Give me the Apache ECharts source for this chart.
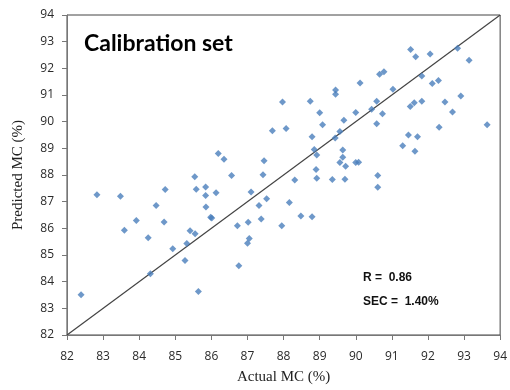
<!DOCTYPE html>
<html>
<head>
<meta charset="utf-8">
<script src="https://cdn.jsdelivr.net/npm/echarts@6/dist/echarts.min.js"></script>
<style>
  html, body { margin: 0; padding: 0; background: #fff; }
  #chart { width: 510px; height: 390px; }
</style>
</head>
<body>
<div id="chart"></div>
<script>
// actual vs predicted moisture content
var actual = [
  82.39, 82.83, 83.48, 83.59, 83.92, 84.25, 84.31, 84.47, 84.69, 84.72,
  84.93, 85.27, 85.32, 85.41, 85.54, 85.55, 85.58, 85.64, 85.84, 85.84,
  85.85, 85.98, 86.01, 86.13, 86.56, 86.72, 86.76, 87.00, 87.02, 87.05,
  87.10, 87.32, 87.38, 87.43, 87.53, 87.97, 88.74, 89.44, 89.44, 89.00,
  90.00, 89.67, 87.69, 88.07, 89.08, 88.79, 89.56, 89.43, 86.19, 86.35,
  87.46, 88.85, 88.92, 89.64, 89.64, 89.56, 89.72, 90.00, 90.08, 88.90,
  88.92, 88.31, 89.35, 89.70, 88.16, 87.95, 88.48, 88.79, 91.52, 91.66,
  92.06, 92.82, 93.14, 90.66, 90.78, 90.12, 91.83, 91.03, 92.12, 92.29,
  90.58, 90.44, 90.74, 91.51, 91.62, 91.83, 92.47, 92.91, 92.68, 90.58,
  92.31, 93.64, 91.46, 91.71, 91.30, 91.64, 90.61, 90.61
]
var predicted = [
  83.51, 87.26, 87.20, 85.93, 86.29, 85.65, 84.30, 86.86, 86.24, 87.46,
  85.23, 84.79, 85.43, 85.91, 87.93, 85.80, 87.47, 83.63, 87.55, 87.23,
  86.80, 86.42, 86.39, 87.33, 87.98, 86.10, 84.60, 85.44, 86.23, 85.62,
  87.36, 86.86, 86.35, 88.01, 87.11, 90.74, 90.77, 91.19, 91.03, 90.33,
  90.34, 90.05, 89.66, 89.74, 89.88, 89.43, 89.63, 89.39, 88.81, 88.59,
  88.53, 88.96, 88.75, 88.94, 88.67, 88.47, 88.33, 88.47, 88.48, 88.21,
  87.88, 87.81, 87.83, 87.84, 86.97, 86.10, 86.46, 86.43, 92.71, 92.43,
  92.54, 92.75, 92.30, 91.78, 91.87, 91.45, 91.71, 91.22, 91.43, 91.54,
  90.77, 90.47, 90.30, 90.57, 90.71, 90.77, 90.74, 90.96, 90.36, 89.92,
  89.79, 89.88, 89.50, 89.43, 89.10, 88.89, 87.98, 87.54
]
var idealLine = [82, 94]
var axisMin = 82
var axisMax = 94
var statLines = ['R =  0.86', 'SEC =  1.40%']

var points = actual.map(function (x, i) { return [x, predicted[i]] })

var chart = echarts.init(document.getElementById('chart'))
var option = {
  animation: false,
  title: {
    text: 'Calibration set',
    left: 79,
    top: 27,
    textStyle: { fontFamily: 'Lato', fontWeight: 'bold', fontSize: 23, color: '#000' }
  },
  grid: {
    left: 67, right: 6, top: 15, bottom: 52,
    show: true, borderColor: '#444', borderWidth: 1
  },
  xAxis: {
    type: 'value',
    min: axisMin, max: axisMax, interval: 1,
    name: 'Actual MC (%)',
    nameLocation: 'middle',
    nameGap: 35,
    nameTextStyle: { fontFamily: 'Liberation Serif', fontSize: 15, color: '#222' },
    axisLine: { lineStyle: { color: '#777' } },
    axisTick: { length: 5, lineStyle: { color: '#777' } },
    axisLabel: { margin: 16, fontFamily: 'Open Sans', fontSize: 12, color: '#2a2a2a' },
    splitLine: { show: false }
  },
  yAxis: {
    type: 'value',
    min: axisMin, max: axisMax, interval: 1,
    name: 'Predicted MC (%)',
    nameLocation: 'middle',
    nameGap: 41,
    nameTextStyle: { fontFamily: 'Liberation Serif', fontSize: 15, color: '#222' },
    axisLine: { show: true, lineStyle: { color: '#777' } },
    axisTick: { show: true, length: 5, lineStyle: { color: '#777' } },
    axisLabel: { margin: 13, fontFamily: 'Open Sans', fontSize: 12, color: '#2a2a2a' },
    splitLine: { show: false }
  },
  graphic: [
    {
      type: 'text', left: 363, top: 272,
      style: { text: statLines[0], font: 'bold 12px "Liberation Sans"', fill: '#111' }
    },
    {
      type: 'text', left: 363, top: 296,
      style: { text: statLines[1], font: 'bold 12px "Liberation Sans"', fill: '#111' }
    }
  ],
  series: [
    {
      type: 'line',
      data: [[idealLine[0], idealLine[0]], [idealLine[1], idealLine[1]]],
      symbol: 'none',
      lineStyle: { color: '#444', width: 1.2 },
      z: 1
    },
    {
      type: 'scatter',
      data: points,
      symbol: 'diamond',
      symbolSize: 7,
      itemStyle: { color: '#4a7ebb' },
      z: 2
    }
  ]
}
chart.setOption(option)
</script>
</body>
</html>
